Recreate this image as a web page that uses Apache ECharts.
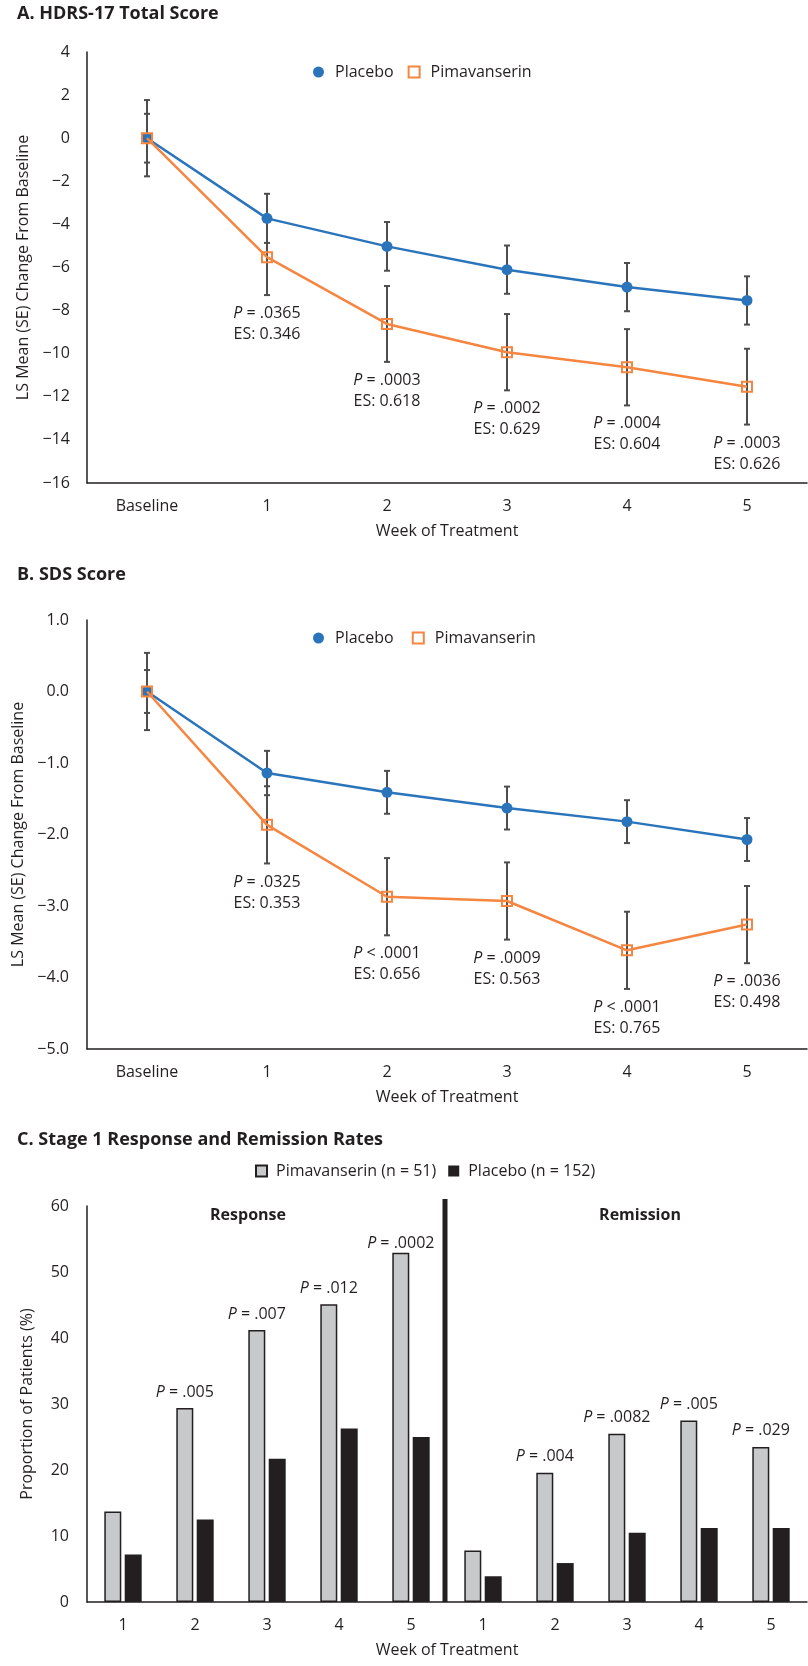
<!DOCTYPE html>
<html>
<head>
<meta charset="utf-8">
<script src="https://cdn.jsdelivr.net/npm/echarts@6/dist/echarts.min.js"></script>
<style>
html,body{margin:0;padding:0;background:#fff;}
#c{width:808px;height:1666px;}
</style>
</head>
<body>
<div id="c"></div>
<script>
// ---------- DATA ----------
const weekCats = ['Baseline', '1', '2', '3', '4', '5'];

const hdrsPlacebo   = [0, -3.72, -5.02, -6.10, -6.91, -7.53];
const hdrsPlaceboSE = [1.13, 1.14, 1.13, 1.12, 1.12, 1.12];
const hdrsPima      = [0, -5.52, -8.62, -9.93, -10.63, -11.53];
const hdrsPimaSE    = [1.77, 1.76, 1.76, 1.77, 1.77, 1.76];
const hdrsP  = [null, '= .0365', '= .0003', '= .0002', '= .0004', '= .0003'];
const hdrsES = [null, '0.346', '0.618', '0.629', '0.604', '0.626'];

const sdsPlacebo   = [0, -1.14, -1.41, -1.63, -1.82, -2.07];
const sdsPlaceboSE = [0.30, 0.31, 0.30, 0.30, 0.30, 0.30];
const sdsPima      = [0, -1.865, -2.87, -2.93, -3.62, -3.26];
const sdsPimaSE    = [0.54, 0.54, 0.54, 0.54, 0.54, 0.54];
const sdsP  = [null, '= .0325', '< .0001', '= .0009', '< .0001', '= .0036'];
const sdsES = [null, '0.353', '0.656', '0.563', '0.765', '0.498'];

const rateWeeks = ['1', '2', '3', '4', '5'];
const responsePima     = [13.7, 29.4, 41.2, 45.1, 52.9];
const responsePlacebo  = [7.2, 12.5, 21.7, 26.3, 25.0];
const remissionPima    = [7.8, 19.6, 25.5, 27.5, 23.5];
const remissionPlacebo = [3.9, 5.9, 10.5, 11.2, 11.2];
const responseP  = [null, '.005', '.007', '.012', '.0002'];
const remissionP = [null, '.004', '.0082', '.005', '.029'];

// ---------- STYLE ----------
const FONT = "'Open Sans', sans-serif";
const TXT = '#231f20';
const BLUE = '#2a74bb';
const ORANGE = '#f5853f';
const ERR = '#4d4d4d';
const GRAY = '#c8c9cb';
const BLACK = '#231f20';

const chart = echarts.init(document.getElementById('c'), null, {renderer: 'canvas'});

function errSeries(means, ses, axisIdx, z) {
  return {
    type: 'custom', xAxisIndex: axisIdx, yAxisIndex: axisIdx, z: z, silent: true,
    data: means.map((m, i) => [i, m, ses[i]]),
    renderItem: function (params, api) {
      const i = api.value(0), m = api.value(1), se = api.value(2);
      const t = api.coord([i, m + se]);
      const b = api.coord([i, m - se]);
      const st = {stroke: ERR, lineWidth: 2};
      const cw = 3;
      return {type: 'group', children: [
        {type: 'line', shape: {x1: t[0], y1: t[1], x2: b[0], y2: b[1]}, style: st},
        {type: 'line', shape: {x1: t[0] - cw, y1: t[1], x2: t[0] + cw, y2: t[1]}, style: st},
        {type: 'line', shape: {x1: b[0] - cw, y1: b[1], x2: b[0] + cw, y2: b[1]}, style: st}
      ]};
    }
  };
}

function annoSeries(means, ses, pArr, esArr, axisIdx) {
  const d = [];
  means.forEach((m, i) => { if (pArr[i]) d.push([i, m - ses[i]]); });
  return {
    type: 'custom', xAxisIndex: axisIdx, yAxisIndex: axisIdx, z: 5, silent: true,
    data: d,
    renderItem: function (params, api) {
      const i = api.value(0);
      const pt = api.coord([i, api.value(1)]);
      return {
        type: 'text', x: pt[0], y: pt[1] + 8,
        style: {
          text: '{i|P} ' + pArr[i] + '\nES: ' + esArr[i],
          fill: TXT, fontSize: 16, fontFamily: FONT,
          align: 'center', verticalAlign: 'top', lineHeight: 21,
          rich: {i: {fontStyle: 'italic', fontSize: 16, fontFamily: FONT, fill: TXT, lineHeight: 21}}
        }
      };
    }
  };
}

const axisLineStyle = {show: true, onZero: false, lineStyle: {color: TXT, width: 1.5}};
const lblStyle = {color: TXT, fontSize: 16, fontFamily: FONT};
const nameStyle = {color: TXT, fontSize: 16, fontFamily: FONT};

const catsC = rateWeeks.map(w => 'R' + w).concat(rateWeeks.map(w => 'M' + w));
const pimaC = responsePima.concat(remissionPima);
const placeboC = responsePlacebo.concat(remissionPlacebo);
const pLabC = responseP.concat(remissionP);

const option = {
  animation: false,
  textStyle: {fontFamily: FONT},
  graphic: [
    {type: 'text', left: 17, top: 5, style: {text: 'A. HDRS-17 Total Score', fill: TXT, font: "bold 18px 'Open Sans', sans-serif"}},
    {type: 'text', left: 17, top: 566, style: {text: 'B. SDS Score', fill: TXT, font: "bold 18px 'Open Sans', sans-serif"}},
    {type: 'text', left: 17, top: 1131, style: {text: 'C. Stage 1 Response and Remission Rates', fill: TXT, font: "bold 18px 'Open Sans', sans-serif"}},
    {type: 'text', x: 248, y: 1215, style: {text: 'Response', fill: TXT, font: "bold 16px 'Open Sans', sans-serif", align: 'center', verticalAlign: 'middle'}},
    {type: 'text', x: 640, y: 1215, style: {text: 'Remission', fill: TXT, font: "bold 16px 'Open Sans', sans-serif", align: 'center', verticalAlign: 'middle'}}
  ],
  legend: [
    {left: 308, top: 59, itemWidth: 11, itemHeight: 11, itemGap: 14,
     textStyle: {color: TXT, fontSize: 16, fontFamily: FONT, padding: [0, 0, 0, 6]},
     data: [{name: 'Placebo', icon: 'circle'}, {name: 'Pimavanserin', icon: 'rect'}]},
    {left: 308, top: 625, itemWidth: 11, itemHeight: 11, itemGap: 14,
     textStyle: {color: TXT, fontSize: 16, fontFamily: FONT, padding: [0, 0, 0, 6]},
     data: [{name: 'Placebo ', icon: 'circle'}, {name: 'Pimavanserin ', icon: 'rect'}]},
    {left: 250, top: 1158, itemWidth: 11, itemHeight: 11, itemGap: 12,
     textStyle: {color: TXT, fontSize: 16, fontFamily: FONT, padding: [0, 0, 0, 4]},
     data: [{name: 'Pimavanserin (n = 51)', icon: 'rect'}, {name: 'Placebo (n = 152)', icon: 'rect'}]}
  ],
  grid: [
    {left: 87, top: 52, width: 720, height: 431},
    {left: 87, top: 620, width: 720, height: 429},
    {left: 87, top: 1206, width: 720, height: 396}
  ],
  xAxis: [
    {gridIndex: 0, type: 'category', data: weekCats, boundaryGap: true,
     axisLine: axisLineStyle, axisTick: {show: false}, axisLabel: Object.assign({margin: 15}, lblStyle),
     name: 'Week of Treatment', nameLocation: 'middle', nameGap: 40, nameTextStyle: nameStyle},
    {gridIndex: 1, type: 'category', data: weekCats, boundaryGap: true,
     axisLine: axisLineStyle, axisTick: {show: false}, axisLabel: Object.assign({margin: 15}, lblStyle),
     name: 'Week of Treatment', nameLocation: 'middle', nameGap: 40, nameTextStyle: nameStyle},
    {gridIndex: 2, type: 'category', data: catsC, boundaryGap: true,
     axisLine: axisLineStyle, axisTick: {show: false},
     axisLabel: Object.assign({margin: 15, interval: 0, formatter: (v, i) => rateWeeks[i % 5]}, lblStyle),
     name: 'Week of Treatment', nameLocation: 'middle', nameGap: 40, nameTextStyle: nameStyle}
  ],
  yAxis: [
    {gridIndex: 0, type: 'value', min: -16, max: 4, interval: 2,
     axisLine: axisLineStyle, axisTick: {show: false}, splitLine: {show: false},
     axisLabel: Object.assign({margin: 17, formatter: v => (v < 0 ? '\u2212' + (-v) : String(v))}, lblStyle),
     name: 'LS Mean (SE) Change From Baseline', nameLocation: 'middle', nameGap: 52, nameTextStyle: nameStyle},
    {gridIndex: 1, type: 'value', min: -5, max: 1, interval: 1,
     axisLine: axisLineStyle, axisTick: {show: false}, splitLine: {show: false},
     axisLabel: Object.assign({margin: 18, formatter: v => (v < 0 ? '\u2212' : '') + Math.abs(v).toFixed(1)}, lblStyle),
     name: 'LS Mean (SE) Change From Baseline', nameLocation: 'middle', nameGap: 52, nameTextStyle: nameStyle},
    {gridIndex: 2, type: 'value', min: 0, max: 60, interval: 10,
     axisLine: axisLineStyle, axisTick: {show: false}, splitLine: {show: false},
     axisLabel: Object.assign({margin: 18}, lblStyle),
     name: 'Proportion of Patients (%)', nameLocation: 'middle', nameGap: 52, nameTextStyle: nameStyle}
  ],
  series: [
    errSeries(hdrsPlacebo, hdrsPlaceboSE, 0, 1),
    errSeries(hdrsPima, hdrsPimaSE, 0, 1),
    {name: 'Placebo', type: 'line', xAxisIndex: 0, yAxisIndex: 0, z: 3, data: hdrsPlacebo,
     symbol: 'circle', symbolSize: 11, lineStyle: {color: BLUE, width: 2.5}, itemStyle: {color: BLUE}},
    {name: 'Pimavanserin', type: 'line', xAxisIndex: 0, yAxisIndex: 0, z: 4, data: hdrsPima,
     symbol: 'rect', symbolSize: 10, lineStyle: {color: ORANGE, width: 2.5},
     itemStyle: {color: 'rgba(255,255,255,0)', borderColor: ORANGE, borderWidth: 2}},
    annoSeries(hdrsPima, hdrsPimaSE, hdrsP, hdrsES, 0),

    errSeries(sdsPlacebo, sdsPlaceboSE, 1, 1),
    errSeries(sdsPima, sdsPimaSE, 1, 1),
    {name: 'Placebo ', type: 'line', xAxisIndex: 1, yAxisIndex: 1, z: 3, data: sdsPlacebo,
     symbol: 'circle', symbolSize: 11, lineStyle: {color: BLUE, width: 2.5}, itemStyle: {color: BLUE}},
    {name: 'Pimavanserin ', type: 'line', xAxisIndex: 1, yAxisIndex: 1, z: 4, data: sdsPima,
     symbol: 'rect', symbolSize: 10, lineStyle: {color: ORANGE, width: 2.5},
     itemStyle: {color: 'rgba(255,255,255,0)', borderColor: ORANGE, borderWidth: 2}},
    annoSeries(sdsPima, sdsPimaSE, sdsP, sdsES, 1),

    {name: 'Pimavanserin (n = 51)', type: 'bar', xAxisIndex: 2, yAxisIndex: 2, barWidth: 17, barGap: '20%',
     itemStyle: {color: GRAY, borderColor: BLACK, borderWidth: 1.5},
     data: pimaC.map((v, i) => ({
       value: v,
       label: {show: !!pLabC[i], distance: (i === 4 ? 1 : 8)}
     })),
     label: {position: 'top', color: TXT, fontSize: 16, fontFamily: FONT,
       formatter: p => pLabC[p.dataIndex] ? '{i|P} = ' + pLabC[p.dataIndex] : '',
       rich: {i: {fontStyle: 'italic', fontSize: 16, fontFamily: FONT, color: TXT}}}},
    {name: 'Placebo (n = 152)', type: 'bar', xAxisIndex: 2, yAxisIndex: 2, barWidth: 17,
     itemStyle: {color: BLACK}, data: placeboC},
    {type: 'custom', xAxisIndex: 2, yAxisIndex: 2, z: 5, silent: true, data: [[4, 0]],
     renderItem: function (params, api) {
       const a = api.coord([4, 0]);
       const b = api.coord([5, 0]);
       const top = api.coord([4, 60]);
       const x = (a[0] + b[0]) / 2 - 2;
       return {type: 'line', shape: {x1: x, y1: top[1] - 7, x2: x, y2: a[1]}, style: {stroke: BLACK, lineWidth: 5}};
     }}
  ]
};
chart.setOption(option);
</script>
</body>
</html>
